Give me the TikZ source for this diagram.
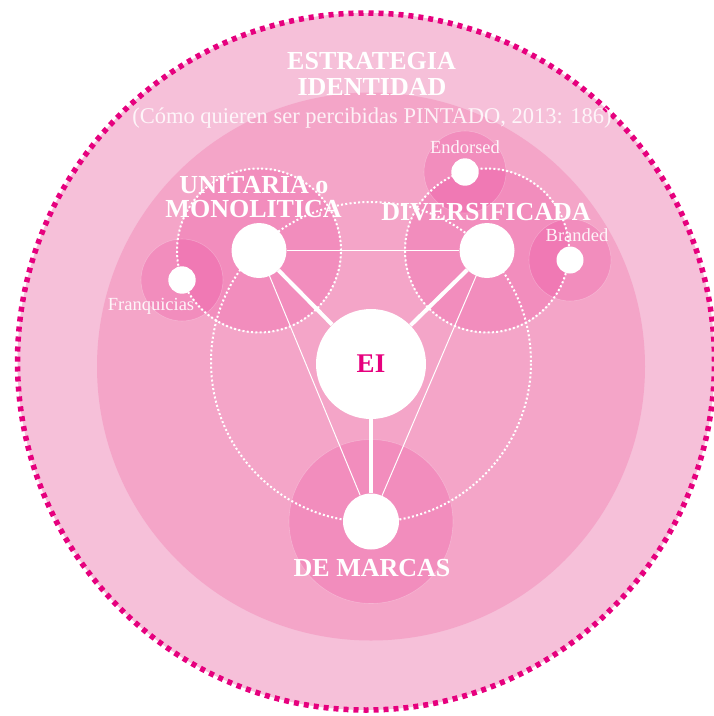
\documentclass[tikz,border=0pt]{standalone}
\usepackage{fontspec}
\setmainfont{Liberation Serif}
\definecolor{mag}{HTML}{E6007E}
\definecolor{outerpink}{HTML}{F6C0D9}
\definecolor{midpink}{HTML}{F4A5C8}
\begin{document}
\begin{tikzpicture}[x=1pt,y=-1pt,
  disc/.style={fill=mag, fill opacity=0.14, draw=white, draw opacity=0.25, line width=0.6pt},
  wdots/.style={draw=white, line width=2pt, dash pattern=on 2pt off 2.3pt},
  wnode/.style={circle, fill=white, inner sep=0pt, minimum size=#1},
  thickline/.style={draw=white, line width=4pt},
  thinline/.style={draw=white, line width=1pt},
  bigtxt/.style={font=\bfseries\fontsize{26}{28}\selectfont, text=white, anchor=base, inner sep=0pt},
  smalltxt/.style={font=\fontsize{18.5}{20}\selectfont, text=white, text opacity=0.9, anchor=base, inner sep=0pt},
]
\useasboundingbox (0,0) rectangle (714,716);
% background circles
\fill[outerpink] (366,361.5) circle (348.5pt);
\draw[mag, line width=5.5pt, dash pattern=on 5pt off 5pt] (366,361.5) circle (348.5pt);
\fill[midpink] (371,366.5) circle (274pt);
% discs
\path[disc] (259,250.5) circle (82pt);
\path[disc] (487,250.5) circle (82pt);
\path[disc] (371,521.5) circle (82pt);
\path[disc] (182,280) circle (41pt);
\path[disc] (465,172) circle (41pt);
\path[disc] (570,260) circle (41pt);
% dotted circles
\draw[wdots] (259,250.5) circle (82pt);
\draw[wdots] (487,250.5) circle (82pt);
\draw[wdots] (371,362) circle (160pt);
% nodes
\node[wnode=110pt, font=\bfseries\fontsize{27}{28}\selectfont, text=mag] (EI) at (371,364) {EI};
\node[wnode=55pt] (U) at (259,250.5) {};
\node[wnode=55pt] (D) at (487,250.5) {};
\node[wnode=56pt] (M) at (371,521.5) {};
\node[wnode=27.4pt] (F) at (182,280) {};
\node[wnode=27.4pt] (E) at (465,172) {};
\node[wnode=27pt] (B) at (570,260) {};
% connectors
\draw[thinline] (U) -- (D);
\draw[thinline] (U) -- (M);
\draw[thinline] (D) -- (M);
\draw[thickline] (EI) -- (U);
\draw[thickline] (EI) -- (D);
\draw[thickline] (EI) -- (M);
% texts
\node[bigtxt] (t1) at (371.5,69) {ESTRATEGIA};
\node[bigtxt] (t2) at (372,95.5) {IDENTIDAD};
\node[font=\fontsize{22.5}{24}\selectfont, text=white, text opacity=0.85, anchor=base, inner sep=0pt] (t3) at (372,123) {(Cómo quieren ser percibidas PINTADO, 2013: 186)};
\node[bigtxt] (lu1) at (254,193.5) {UNITARIA o};
\node[bigtxt] (lu2) at (253.6,217.7) {MONOLITICA};
\node[bigtxt] (ld) at (486,220) {DIVERSIFICADA};
\node[bigtxt] (lm) at (372,576) {DE MARCAS};
\node[smalltxt] (le) at (465,153.5) {Endorsed};
\node[smalltxt] (lb) at (577,241) {Branded};
\node[smalltxt] (lf) at (151,310) {Franquicias};
\end{tikzpicture}
\end{document}
